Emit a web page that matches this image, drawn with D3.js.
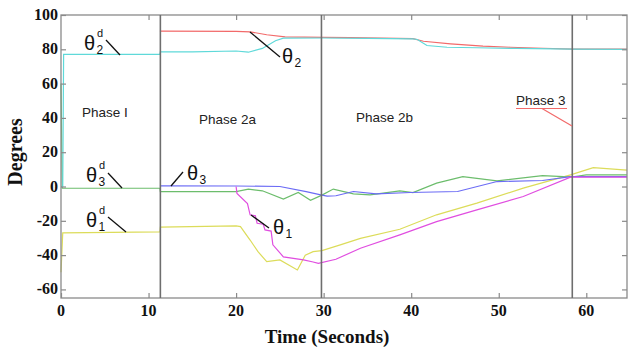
<!DOCTYPE html>
<html lang="en">
<head>
  <meta charset="UTF-8" />
  <title>Joint angles by phase</title>
  <script src="https://d3js.org/d3.v7.min.js"></script>
  <style>
    body {
      margin: 0;
      background: #fff;
    }

    .serif-bold {
      font-family: "Liberation Serif", "Times New Roman", serif;
      font-weight: bold;
      fill: #111;
    }

    .phase {
      font-family: "Liberation Sans", Arial, sans-serif;
      font-size: 13.5px;
      fill: #222;
    }

    .sym {
      font-family: "Liberation Sans", Arial, sans-serif;
      fill: #111;
    }

    .series {
      fill: none;
      stroke-width: 1.2;
    }
  </style>
</head>
<body>

<svg id="chart" width="630" height="349"></svg>

<script>
/* ---------------- DATA ---------------- */

// [time (s), degrees]
const theta2d = [[0,0],[0.2,0],[0.3,77],[11.3,77],[11.35,78.5],[15,78.5],[20,79],[21.4,78.3],[23,80.5],[24.5,85],[25.4,86.5],[30,86.6],[35,86.4],[40.2,86.1],[40.7,85.7],[41.8,82.2],[44.1,81.2],[47.5,80.9],[52,80.5],[58.5,80.1],[64.65,80]];
const theta2 = [[11.3,90.6],[20,90.5],[21.6,90.2],[23.5,88.5],[25.6,87.3],[30,87],[33,86.8],[40.2,86.2],[41.4,84.7],[44.5,83.2],[48.2,81.8],[51.3,81.2],[55,80.6],[58.5,80.1],[64.65,80.1]];
const theta3d = [[0,60],[0.15,-1],[11.3,-1],[11.35,-3],[20,-3],[21.4,-1.5],[23,-2.5],[25.4,-7.3],[27.1,-3.5],[28.5,-8],[29.8,-5],[31.1,-1.5],[33.4,-4.3],[35.3,-4.9],[38.7,-2.5],[40.2,-3.5],[42.9,2],[45.9,5.8],[49.8,3.3],[55,6.4],[57.4,5.8],[58.5,5.7],[60,6.8],[64.65,6.8]];
const theta3 = [[11.3,0.4],[20,0.3],[25,0],[28,-3],[29.8,-5],[30.4,-5.6],[31.4,-5.4],[33.4,-2.9],[36,-4.3],[39.9,-3.5],[45.3,-2.9],[49.8,2.9],[55,3.5],[58.2,5.8],[64.65,5.8]];
const theta1d = [[0,-50],[0.2,-27],[11.3,-26.5],[11.35,-23.7],[20,-23],[20.5,-23.4],[21.6,-31.2],[22.5,-38],[23.5,-43.8],[25,-42.8],[27,-48.7],[27.9,-40],[28.8,-38],[29.8,-37.4],[31.9,-34],[34.2,-30.2],[38.7,-24.9],[42.9,-16.5],[47.5,-9.7],[52.8,-0.9],[58.2,6.8],[60.8,11],[64.65,9.5]];
const theta1 = [[20,0],[20.1,-4],[21.3,-10],[21.6,-16.5],[22.2,-17],[22.4,-21.4],[23.1,-22],[23.3,-25.3],[24,-26],[24.2,-34],[25.4,-41],[27.7,-42.8],[28.8,-44],[29.4,-44.8],[31.4,-42.4],[34.2,-36],[38.7,-28.2],[42.9,-20.5],[47.5,-13.6],[52.8,-5.8],[58.2,5.5],[64.65,5.5]];

const phaseBounds = [11.35, 29.75, 58.4];
const phaseNames = ["Phase I", "Phase 2a", "Phase 2b", "Phase 3"];

const xTicks = [0, 10, 20, 30, 40, 50, 60];
const yTicks = [-60, -40, -20, 0, 20, 40, 60, 80, 100];

/* ---------------- SVG SETUP ---------------- */

const svg = d3.select("#chart");
const margin = { top: 15, right: 3, bottom: 51, left: 61 };
const W = 630, H = 349;

const x = d3.scaleLinear().domain([0, 64.65]).range([margin.left, W - margin.right]);
const y = d3.scaleLinear().domain([-65, 100]).range([H - margin.bottom, margin.top]);

const line = d3.line().x(d => x(d[0])).y(d => y(d[1]));

/* ---------------- SERIES ---------------- */

const series = [
  { data: theta2, color: "#f26a6a" },
  { data: theta1d, color: "#dcdc5a" },
  { data: theta3d, color: "#6cbd6c" },
  { data: theta3, color: "#6b6bf5" },
  { data: theta1, color: "#e04ee0" },
  { data: theta2d, color: "#5fd9d9" }
];

svg.selectAll(".series")
  .data(series)
  .enter()
  .append("path")
  .attr("class", "series")
  .attr("d", d => line(d.data))
  .attr("stroke", d => d.color);

/* ---------------- FRAME + TICKS ---------------- */

svg.append("rect")
  .attr("x", x(0)).attr("y", y(100))
  .attr("width", x(64.65) - x(0)).attr("height", y(-65) - y(100))
  .attr("fill", "none")
  .attr("stroke", "#8a8a8a")
  .attr("stroke-width", 1.3);

const axes = [
  [d3.axisBottom(x).tickValues(xTicks), `translate(0,${y(-65)})`],
  [d3.axisTop(x).tickValues(xTicks.slice(1)), `translate(0,${y(100)})`],
  [d3.axisLeft(y).tickValues(yTicks), `translate(${x(0)},0)`],
  [d3.axisRight(y).tickValues(yTicks), `translate(${x(64.65)},0)`]
];

axes.forEach(([ax, tr]) => {
  const g = svg.append("g")
    .attr("transform", tr)
    .call(ax.tickSizeInner(-5).tickSizeOuter(0).tickFormat(""));
  g.select(".domain").remove();
  g.selectAll(".tick line").attr("stroke", "#8a8a8a").attr("stroke-width", 1.2);
});

// tick labels (bold serif)
svg.selectAll(".xlab")
  .data(xTicks)
  .enter()
  .append("text")
  .attr("class", "xlab serif-bold")
  .attr("x", d => x(d))
  .attr("y", y(-65) + 18)
  .attr("text-anchor", "middle")
  .style("font-size", "16px")
  .text(d => d);

svg.selectAll(".ylab")
  .data(yTicks)
  .enter()
  .append("text")
  .attr("class", "ylab serif-bold")
  .attr("x", x(0) - 3)
  .attr("y", d => y(d) + 5)
  .attr("text-anchor", "end")
  .style("font-size", "16px")
  .text(d => d);

/* ---------------- PHASES ---------------- */

svg.selectAll(".phase-line")
  .data(phaseBounds)
  .enter()
  .append("line")
  .attr("class", "phase-line")
  .attr("x1", d => x(d)).attr("x2", d => x(d))
  .attr("y1", y(100)).attr("y2", y(-65))
  .attr("stroke", "#6e6e6e")
  .attr("stroke-width", 1.6);

const phasePos = [[82, 117], [199, 124], [356, 122], [516, 105]];
svg.selectAll(".phase")
  .data(phaseNames)
  .enter()
  .append("text")
  .attr("class", "phase")
  .attr("x", (d, i) => phasePos[i][0])
  .attr("y", (d, i) => phasePos[i][1])
  .text(d => d);

// red underline + pointer for Phase 3
svg.append("path")
  .attr("d", "M516,108.5H567M542,108.5L572,126")
  .attr("fill", "none")
  .attr("stroke", "#f26a6a")
  .attr("stroke-width", 1.2);

/* ---------------- THETA LABELS ---------------- */

const labels = [
  { sub: "2", sup: "d", at: [84, 50], lead: [106, 40, 120, 55] },
  { sub: "2", sup: "", at: [282, 63], lead: [250, 32, 280, 57] },
  { sub: "3", sup: "d", at: [86, 182], lead: [108, 173, 122, 188] },
  { sub: "3", sup: "", at: [187, 180], lead: [183, 172, 171, 186] },
  { sub: "1", sup: "d", at: [86, 227], lead: [108, 217, 126, 232] },
  { sub: "1", sup: "", at: [273, 234], lead: [251, 215, 269, 228] }
];

labels.forEach(l => {
  svg.append("line")
    .attr("x1", l.lead[0]).attr("y1", l.lead[1])
    .attr("x2", l.lead[2]).attr("y2", l.lead[3])
    .attr("stroke", "#111").attr("stroke-width", 1.3);
  svg.append("text").attr("class", "sym")
    .attr("x", l.at[0]).attr("y", l.at[1])
    .style("font-size", "20px")
    .text("\u03b8");
  svg.append("text").attr("class", "sym")
    .attr("x", l.at[0] + 12.5).attr("y", l.at[1] + 4)
    .style("font-size", "12px")
    .text(l.sub);
  if (l.sup) {
    svg.append("text").attr("class", "sym")
      .attr("x", l.at[0] + 13).attr("y", l.at[1] - 13)
      .style("font-size", "11px")
      .text(l.sup);
  }
});

/* ---------------- AXIS TITLES ---------------- */

svg.append("text")
  .attr("class", "serif-bold")
  .attr("x", 327).attr("y", 343)
  .attr("text-anchor", "middle")
  .style("font-size", "19px")
  .text("Time (Seconds)");

svg.append("text")
  .attr("class", "serif-bold")
  .attr("transform", "translate(22,152) rotate(-90)")
  .attr("text-anchor", "middle")
  .style("font-size", "20px")
  .text("Degrees");
</script>

</body>
</html>
